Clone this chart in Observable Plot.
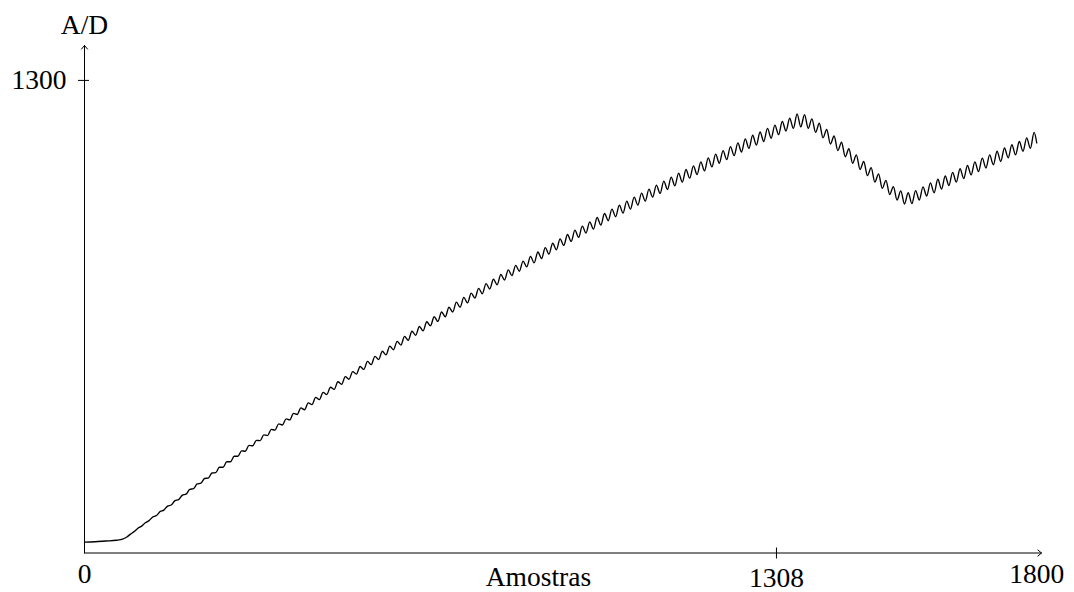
<!DOCTYPE html>
<html>
<head>
<meta charset="utf-8">
<script src="https://cdn.jsdelivr.net/npm/d3@7"></script>
<script src="https://cdn.jsdelivr.net/npm/@observablehq/plot@0.6"></script>
<style>
  html, body { margin: 0; padding: 0; background: #fff; }
  #chart svg { display: block; }
</style>
</head>
<body>
<div id="chart"></div>
<script>
// Flat start of the signal (sample index, A/D value)
const leadX = [0, 20, 40, 60, 72, 80];
const leadY = [30, 31, 33, 35, 38, 44];

// Ripple extrema: alternating peak / trough,
// first one at sample 87, one every 7 samples
const rippleStart = 87;
const rippleStep = 7;
const rippleY = [
  52, 59, 68, 74, 83, 89, 99, 103, 114, 118,
  129, 132, 144, 147, 159, 162, 175, 177, 190, 192,
  205, 206, 220, 221, 236, 236, 251, 251, 266, 266,
  281, 280, 296, 295, 310, 309, 325, 323, 340, 338,
  355, 352, 369, 366, 384, 381, 399, 394, 413, 408,
  428, 422, 442, 436, 456, 450, 471, 464, 485, 478,
  499, 492, 513, 505, 527, 518, 541, 532, 555, 545,
  569, 559, 582, 572, 596, 585, 610, 599, 623, 611,
  636, 625, 650, 637, 663, 650, 676, 663, 690, 676,
  703, 688, 715, 701, 728, 713, 741, 726, 753, 738,
  766, 751, 779, 763, 791, 775, 803, 787, 816, 798,
  828, 810, 840, 822, 852, 834, 864, 846, 876, 857,
  888, 868, 899, 880, 911, 891, 923, 902, 934, 914,
  946, 925, 957, 935, 968, 946, 979, 957, 990, 968,
  1001, 979, 1012, 989, 1023, 1000, 1034, 1010, 1045, 1020,
  1055, 1031, 1065, 1041, 1076, 1051, 1087, 1062, 1097, 1072,
  1107, 1082, 1118, 1093, 1128, 1103, 1139, 1113, 1149, 1122,
  1158, 1132, 1168, 1141, 1177, 1151, 1187, 1161, 1196, 1168,
  1208, 1172, 1206, 1168, 1194, 1157, 1182, 1142, 1165, 1125,
  1147, 1107, 1130, 1090, 1112, 1072, 1095, 1055, 1077, 1038,
  1060, 1020, 1043, 1003, 1025, 986, 1008, 971, 996, 960,
  991, 961, 997, 971, 1007, 982, 1018, 991, 1028, 1001,
  1037, 1011, 1047, 1020, 1057, 1030, 1066, 1040, 1076, 1049,
  1086, 1059, 1095, 1068, 1105, 1077, 1114, 1087, 1123, 1095,
  1132, 1105, 1142, 1113, 1157
];
const endX = [1800];
const endY = [1128];

// Axis settings
const xMax = 1809;
const yMax = 1396;
const xTickLabels = [0, 1800];
const xTickMarked = [1308];
const yTicks = [1300];
const xLabel = "Amostras";
const yLabel = "A/D";

const rippleX = d3.range(rippleY.length).map(i => rippleStart + i * rippleStep);
const signal = [
  ...leadX.map((x, i) => ({x, y: leadY[i]})),
  ...rippleX.map((x, i) => ({x, y: rippleY[i]})),
  ...endX.map((x, i) => ({x, y: endY[i]}))
];

const font = "'Liberation Serif', 'DejaVu Serif', serif";
const fs = 27.5;

const chart = Plot.plot({
  width: 1074,
  height: 592,
  marginLeft: 84,
  marginRight: 33,
  marginTop: 45,
  marginBottom: 39.5,
  style: {fontFamily: font, fontSize: fs + "px", background: "#fff", color: "#000"},
  x: {domain: [0, xMax], axis: null},
  y: {domain: [0, yMax], axis: null},
  marks: [
    // axes with arrow tips
    Plot.arrow([{x1: 0, y1: 0, x2: xMax, y2: 0}], {
      x1: "x1", y1: "y1", x2: "x2", y2: "y2",
      stroke: "#000", strokeWidth: 1, headLength: 7, headAngle: 80
    }),
    Plot.arrow([{x1: 0, y1: 0, x2: 0, y2: yMax}], {
      x1: "x1", y1: "y1", x2: "x2", y2: "y2",
      stroke: "#000", strokeWidth: 1, headLength: 7, headAngle: 80
    }),
    // tick marks
    Plot.ruleX(xTickMarked, {
      y1: 0, y2: 0, insetTop: -5, insetBottom: -6, stroke: "#000", strokeWidth: 1
    }),
    Plot.ruleY(yTicks, {
      x1: 0, x2: 0, insetLeft: -6, insetRight: -5, stroke: "#000", strokeWidth: 1
    }),
    // the signal
    Plot.line(signal, {x: "x", y: "y", curve: "monotone-x", stroke: "#000", strokeWidth: 1.35}),
    // tick labels
    Plot.text(xTickLabels, {x: d => d, y: 0, text: d => String(d), dy: 21,
      textAnchor: "middle", fill: "#000", fontFamily: font, fontSize: fs}),
    Plot.text(xTickMarked, {x: d => d, y: 0, text: d => String(d), dy: 25.5,
      textAnchor: "middle", fill: "#000", fontFamily: font, fontSize: fs}),
    Plot.text(yTicks, {x: 0, y: d => d, text: d => String(d), dx: -18,
      textAnchor: "end", fill: "#000", fontFamily: font, fontSize: fs}),
    // axis titles
    Plot.text([xLabel], {x: 858, y: 0, text: d => d, dy: 24, textAnchor: "middle",
      fill: "#000", fontFamily: font, fontSize: fs}),
    Plot.text([yLabel], {x: 0, y: yMax, text: d => d, dy: -20, textAnchor: "middle",
      fill: "#000", fontFamily: font, fontSize: fs})
  ]
});
document.getElementById("chart").appendChild(chart);
</script>
</body>
</html>
